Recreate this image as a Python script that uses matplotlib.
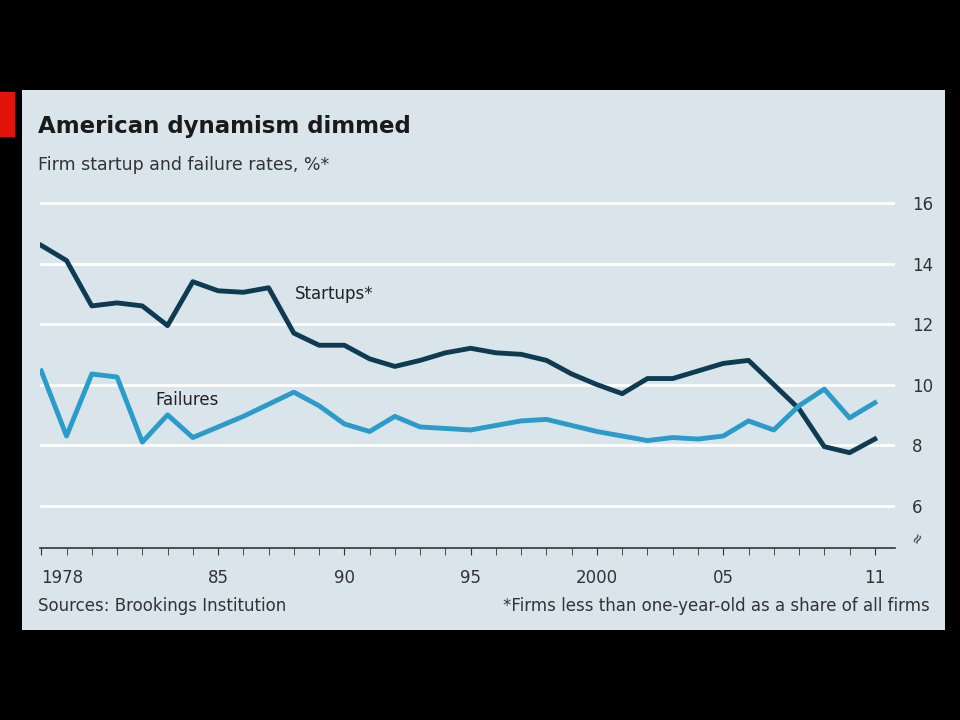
import matplotlib.pyplot as plt
from matplotlib.patches import Rectangle

years = list(range(1978, 2012))
startups = [14.6, 14.1, 12.6, 12.7, 12.6, 11.95, 13.4, 13.1, 13.05, 13.2, 11.7, 11.3,
            11.3, 10.85, 10.6, 10.8, 11.05, 11.2, 11.05, 11.0, 10.8, 10.35, 10.0, 9.7,
            10.2, 10.2, 10.45, 10.7, 10.8, 10.0, 9.2, 7.95, 7.75, 8.2]
failures = [10.45, 8.3, 10.35, 10.25, 8.1, 9.0, 8.25, 8.6, 8.95, 9.35, 9.75, 9.3,
            8.7, 8.45, 8.95, 8.6, 8.55, 8.5, 8.65, 8.8, 8.85, 8.65, 8.45, 8.3,
            8.15, 8.25, 8.2, 8.3, 8.8, 8.5, 9.3, 9.85, 8.9, 9.4]
yticks = [6, 8, 10, 12, 14, 16]
xticks = [1978, 1985, 1990, 1995, 2000, 2005, 2011]
xlabels = ["1978", "85", "90", "95", "2000", "05", "11"]

BG = "#d9e4eb"
DARK = "#0e3b52"
LIGHT = "#2b9bc9"

fig = plt.figure(figsize=(9.6, 7.2), dpi=100, facecolor="black")
fig.add_artist(Rectangle((22 / 960, 90 / 720), 923 / 960, 540 / 720,
                         transform=fig.transFigure, facecolor=BG, zorder=-2))
fig.add_artist(Rectangle((0, 583 / 720), 15 / 960, 45 / 720,
                         transform=fig.transFigure, facecolor="#e3120b", zorder=-1))

ax = fig.add_axes([40 / 960, 1 - 548 / 720, 855 / 960, 348 / 720])
ax.set_facecolor(BG)
ax.set_xlim(1977.95, 2011.8)
ax.set_ylim(4.6, 16.1)
for y in yticks:
    ax.axhline(y, color="white", lw=2, zorder=1)
ax.plot(years, startups, color=DARK, lw=3.5, zorder=3)
ax.plot(years, failures, color=LIGHT, lw=3.5, zorder=3)
for s in ["top", "right", "left"]:
    ax.spines[s].set_visible(False)
ax.spines["bottom"].set_color("#333333")
ax.spines["bottom"].set_linewidth(1.2)
ax.yaxis.tick_right()
ax.set_yticks(yticks)
ax.set_yticklabels([str(y) for y in yticks], fontsize=12, color="#333333")
ax.tick_params(axis="y", length=0, pad=12)
ax.set_xticks(years, minor=True)
ax.set_xticks(xticks)
ax.set_xticklabels(xlabels, fontsize=12, color="#333333")
ax.get_xticklabels()[0].set_horizontalalignment("left")
ax.tick_params(axis="x", which="both", length=5, color="#333333", direction="out", pad=10)
ax.text(2012.7, 4.95, "≈", rotation=60, fontsize=10, color="#333333",
        ha="center", va="center", clip_on=False)

ax.text(1988.05, 13.0, "Startups*", fontsize=12, color="#222222", va="center")
ax.text(1982.5, 9.5, "Failures", fontsize=12, color="#222222", va="center")

fig.text(38 / 960, 1 - 133 / 720, "American dynamism dimmed", fontsize=16.5,
         fontweight="bold", color="#1a1a1a", va="baseline")
fig.text(38 / 960, 1 - 170 / 720, "Firm startup and failure rates, %*", fontsize=12.5,
         color="#333333", va="baseline")
fig.text(38 / 960, 1 - 611 / 720, "Sources: Brookings Institution", fontsize=12,
         color="#333333", va="baseline")
fig.text(930 / 960, 1 - 611 / 720, "*Firms less than one-year-old as a share of all firms",
         fontsize=12, color="#333333", va="baseline", ha="right")

fig.savefig("out.png", dpi=100, facecolor="black")
